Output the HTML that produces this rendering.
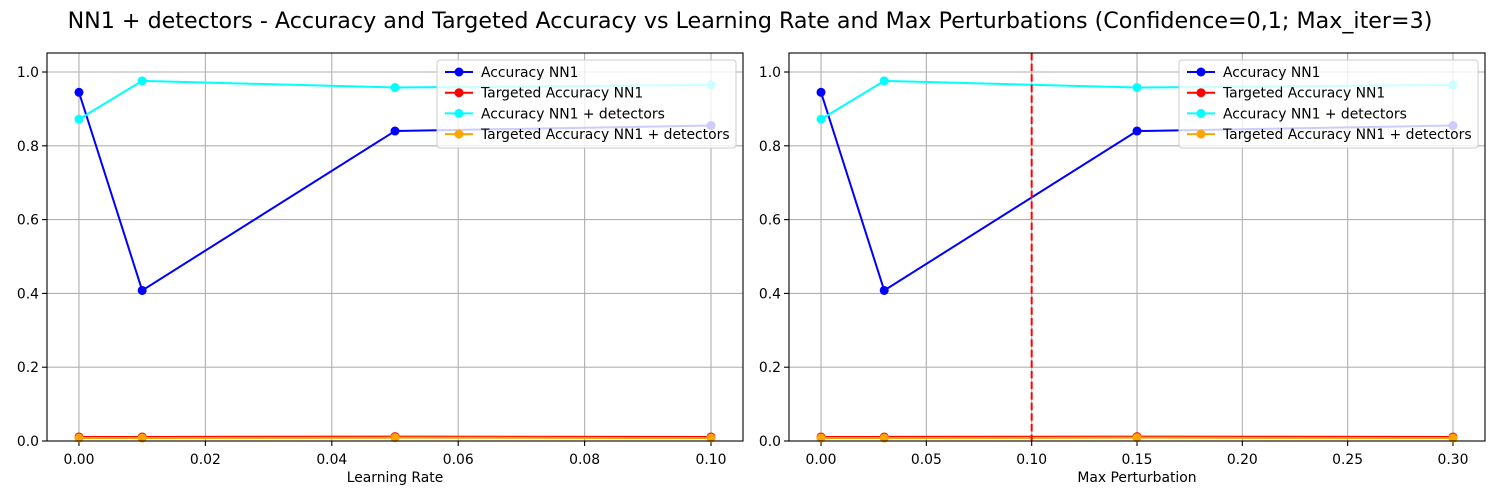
<!DOCTYPE html>
<html><head><meta charset="utf-8"><style>
body{margin:0;background:#fff;}
svg{display:block;font-family:"DejaVu Sans","Liberation Sans",sans-serif;}
</style></head><body>
<svg id="chart" width="1500" height="500" xmlns="http://www.w3.org/2000/svg">
<text x="750" y="28" text-anchor="middle" font-size="22.2" fill="#000">NN1 + detectors - Accuracy and Targeted Accuracy vs Learning Rate and Max Perturbations (Confidence=0,1; Max_iter=3)</text>
</svg>
<script>
const lrValues = [0, 0.01, 0.05, 0.1];
const mpValues = [0, 0.03, 0.15, 0.3];
const accNN1 = [0.945, 0.408, 0.840, 0.855];
const targNN1 = [0.011, 0.011, 0.012, 0.011];
const accDet = [0.872, 0.976, 0.958, 0.965];
const targDet = [0.008, 0.008, 0.009, 0.008];
const lrTicks = [0, 0.02, 0.04, 0.06, 0.08, 0.10];
const lrTickLabels = ["0.00","0.02","0.04","0.06","0.08","0.10"];
const mpTicks = [0, 0.05, 0.10, 0.15, 0.20, 0.25, 0.30];
const mpTickLabels = ["0.00","0.05","0.10","0.15","0.20","0.25","0.30"];
const yTicks = [0, 0.2, 0.4, 0.6, 0.8, 1.0];
const yTickLabels = ["0.0","0.2","0.4","0.6","0.8","1.0"];
const seriesNames = ["Accuracy NN1","Targeted Accuracy NN1","Accuracy NN1 + detectors","Targeted Accuracy NN1 + detectors"];
const seriesColors = ["#0000ff","#ff0000","#00ffff","#ffa500"];
const vline = 0.1;

const NS = "http://www.w3.org/2000/svg";
const svg = document.getElementById('chart');
function mk(tag, attrs, parent){const e=document.createElementNS(NS,tag);for(const k in attrs)e.setAttribute(k,attrs[k]);(parent||svg).appendChild(e);return e;}

function panel(px0, px1, xmin, xmax, xs, xticks, xlabels, xtitle, prefix, hasVline){
  const py0=53, py1=441, ymin=0, ymax=1.0515;
  const X=v=>px0+(v-xmin)/(xmax-xmin)*(px1-px0);
  const Y=v=>py1-(v-ymin)/(ymax-ymin)*(py1-py0);
  const g=mk('g',{});
  
  
  xticks.forEach((t,i)=>{
    const gl=mk('line',{x1:X(t),x2:X(t),y1:py0,y2:py1,stroke:'#b0b0b0','stroke-width':1.1},g);
    
    
    mk('line',{x1:X(t),x2:X(t),y1:py1,y2:py1+5,stroke:'#000','stroke-width':1.1},g);
    const tx=mk('text',{x:X(t),y:py1+23,'text-anchor':'middle','font-size':13.9},g);
    tx.textContent=xlabels[i];
    
    
  });
  yTicks.forEach((t,i)=>{
    const gl=mk('line',{x1:px0,x2:px1,y1:Y(t),y2:Y(t),stroke:'#b0b0b0','stroke-width':1.1},g);
    
    
    mk('line',{x1:px0-5,x2:px0,y1:Y(t),y2:Y(t),stroke:'#000','stroke-width':1.1},g);
    const tx=mk('text',{x:px0-8,y:Y(t)+5,'text-anchor':'end','font-size':13.9},g);
    tx.textContent=yTickLabels[i];
    
    
  });
  const xt=mk('text',{x:(px0+px1)/2,y:482,'text-anchor':'middle','font-size':13.9},g);
  xt.textContent=xtitle;
  
  
  const all=[accNN1,targNN1,accDet,targDet];
  all.forEach((arr,si)=>{
    const pts=xs.map((x,i)=>X(x)+','+Y(arr[i])).join(' ');
    const pl=mk('polyline',{points:pts,fill:'none',stroke:seriesColors[si],'stroke-width':2},g);
    
    
    xs.forEach((x,i)=>{
      const c=mk('circle',{cx:X(x),cy:Y(arr[i]),r:4.5,fill:seriesColors[si]},g);
      
      
    });
  });
  if(hasVline){
    const vl=mk('line',{x1:X(vline),x2:X(vline),y1:py0,y2:py1,stroke:'#ff0000','stroke-width':2,'stroke-dasharray':'7.4,3.2'},g);
    
    
  }
  const fr=mk('rect',{x:px0,y:py0,width:px1-px0,height:py1-py0,fill:'none',stroke:'#000','stroke-width':1.1},g);
  
  
  const lx=px1-306, ly=60;
  const lg=mk('g',{},g);
  
  
  mk('rect',{x:lx,y:ly,width:299,height:88,rx:3,fill:'#fff','fill-opacity':0.8,stroke:'#cccccc','stroke-width':1},lg);
  seriesNames.forEach((n,i)=>{
    const yy=ly+12+i*20.7;
    mk('line',{x1:lx+8,x2:lx+36,y1:yy,y2:yy,stroke:seriesColors[i],'stroke-width':2},lg);
    mk('circle',{cx:lx+22,cy:yy,r:4.5,fill:seriesColors[i]},lg);
    const t=mk('text',{x:lx+44,y:yy+5,'font-size':13.9},lg);
    t.textContent=n;
    
    
  });
}
panel(47,743,-0.00506,0.10506,lrValues,lrTicks,lrTickLabels,'Learning Rate','left',false);
panel(789,1485,-0.0152,0.3152,mpValues,mpTicks,mpTickLabels,'Max Perturbation','right',true);
</script>
</body></html>
